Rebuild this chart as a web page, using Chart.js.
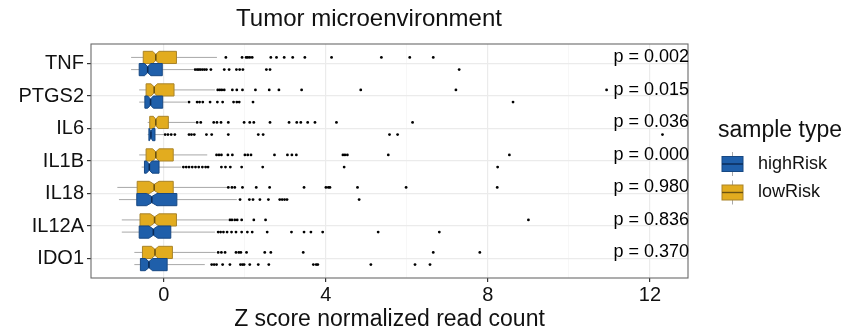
<!DOCTYPE html>
<html><head><meta charset="utf-8">
<script src="https://cdn.jsdelivr.net/npm/chart.js@4.4.1/dist/chart.umd.min.js"></script>
<style>html,body{margin:0;padding:0;background:#fff}canvas{display:block}</style>
</head><body>
<canvas id="c" width="856" height="333"></canvas>
<script>
// ---------- data ----------
const genes = ['TNF','PTGS2','IL6','IL1B','IL18','IL12A','IDO1'];
const groupNames = ['highRisk','lowRisk'];
const pValues = ['0.002','0.015','0.036','0.000','0.980','0.836','0.370'];
const xTickValues = [0,4,8,12];
const xMinorValues = [2,6,10];
const chartTitle = 'Tumor microenvironment';
const xAxisTitle = 'Z score normalized read count';
const legendTitle = 'sample type';

const highRiskMin    = [-0.81,-0.61,-0.40,-0.55,-1.11,-1.04,-0.73];
const highRiskQ1     = [-0.61,-0.47,-0.37,-0.48,-0.67,-0.61,-0.58];
const highRiskMedian = [-0.40,-0.33,-0.32,-0.36,-0.30,-0.26,-0.37];
const highRiskQ3     = [-0.04,-0.03,-0.22,-0.12, 0.32, 0.17, 0.08];
const highRiskMax    = [ 0.72, 0.57,-0.02, 0.43, 1.80, 1.26, 1.01];
const highRiskNotch  = [ 0.08, 0.07, 0.04, 0.07, 0.13, 0.11, 0.09];

const lowRiskMin    = [-0.81,-0.61,-0.40,-0.61,-1.15,-1.04,-0.73];
const lowRiskQ1     = [-0.51,-0.44,-0.35,-0.44,-0.66,-0.59,-0.53];
const lowRiskMedian = [-0.20,-0.24,-0.20,-0.20,-0.24,-0.23,-0.22];
const lowRiskQ3     = [ 0.31, 0.25, 0.11, 0.23, 0.23, 0.31, 0.21];
const lowRiskMax    = [ 1.31, 1.26, 0.77, 1.07, 1.56, 1.58, 1.28];
const lowRiskNotch  = [ 0.08, 0.08, 0.06, 0.08, 0.12, 0.11, 0.09];

const highRiskOutliers = [
  [0.77,0.82,0.86,0.90,0.95,1.00,1.05,1.16,1.49,1.61,1.79,1.87,1.95,2.53,2.62,7.29],
  [0.62,0.82,0.88,0.96,1.14,1.32,1.45,1.72,1.80,1.86,2.20,8.62],
  [0.03,0.10,0.18,0.27,0.62,0.68,0.75,1.05,1.18,1.59,2.33,2.45,5.57,5.77,12.31],
  [0.48,0.55,0.62,0.70,0.78,0.86,0.95,1.03,1.09,1.42,1.52,1.64,1.92,2.44,4.45,8.24],
  [1.88,2.11,2.20,2.37,2.58,2.86,2.92,2.98,3.04,4.82],
  [1.34,1.40,1.47,1.56,1.67,1.78,1.92,2.06,2.18,2.55,3.15,3.46,3.63,3.92,5.29,6.80],
  [1.18,1.24,1.30,1.45,1.63,1.89,1.94,1.98,2.12,2.33,2.59,3.69,3.76,3.80,5.11,6.20,6.57]
];
const lowRiskOutliers = [
  [1.53,1.93,2.03,2.07,2.12,2.18,2.64,2.78,2.97,3.18,3.48,4.14,5.37,6.07,6.65],
  [1.33,1.38,1.43,1.49,1.69,1.80,1.94,2.26,2.60,2.84,3.40,4.86,7.21,10.93],
  [0.82,0.91,1.23,1.31,1.41,1.59,1.98,2.12,2.22,2.62,3.09,3.28,3.38,3.55,3.73,4.26,6.14],
  [1.30,1.36,1.42,1.58,1.69,2.00,2.07,2.15,2.73,3.05,3.16,3.27,4.42,4.47,4.53,5.54,8.53],
  [1.59,1.68,1.75,1.94,2.28,2.61,3.46,4.00,4.06,4.10,4.78,5.98,8.23],
  [1.63,1.68,1.75,1.81,1.92,2.22,2.51,9.00],
  [1.34,1.42,1.51,1.78,1.85,1.90,2.04,2.49,2.64,3.44,6.65,7.80]
];

// ---------- styling ----------
const FONT = "'Liberation Sans', Arial, Helvetica, sans-serif";
const STYLE = {
  highRisk: {fill:'#1F5FAA', stroke:'#174883', median:'#0B2A55'},
  lowRisk:  {fill:'#E2AC1F', stroke:'#A9842A', median:'#6A5212'}
};
const HALF = 0.1875; // half of dodged box thickness (category units)
const groups = [
  {name:'lowRisk', offset:-HALF, min:lowRiskMin, q1:lowRiskQ1, med:lowRiskMedian, q3:lowRiskQ3, max:lowRiskMax, notch:lowRiskNotch, out:lowRiskOutliers},
  {name:'highRisk', offset:HALF, min:highRiskMin, q1:highRiskQ1, med:highRiskMedian, q3:highRiskQ3, max:highRiskMax, notch:highRiskNotch, out:highRiskOutliers}
];

function outlierPoints(g){
  const pts = [];
  g.out.forEach((arr,i)=>arr.forEach(v=>pts.push({x:v, y:i+1+g.offset})));
  return pts;
}

const boxPlugin = {
  id:'boxes',
  beforeDatasetsDraw(chart){
    const {ctx, chartArea:a, scales:{x,y}} = chart;
    ctx.save();
    ctx.beginPath(); ctx.rect(a.left,a.top,a.right-a.left,a.bottom-a.top); ctx.clip();
    groups.forEach(g=>{
      const st = STYLE[g.name];
      genes.forEach((gene,i)=>{
        const c = i+1+g.offset;
        const yc = y.getPixelForValue(c);
        const hh = Math.abs(y.getPixelForValue(c+HALF)-yc);
        const xl = x.getPixelForValue(g.min[i]), x1 = x.getPixelForValue(g.q1[i]);
        const xm = x.getPixelForValue(g.med[i]), x3 = x.getPixelForValue(g.q3[i]);
        const xh = x.getPixelForValue(g.max[i]);
        const nl = x.getPixelForValue(g.med[i]-g.notch[i]), nr = x.getPixelForValue(g.med[i]+g.notch[i]);
        ctx.strokeStyle = '#A8A8A8'; ctx.lineWidth = 1;
        ctx.beginPath(); ctx.moveTo(xl,yc); ctx.lineTo(x1,yc); ctx.moveTo(x3,yc); ctx.lineTo(xh,yc); ctx.stroke();
        const top = yc-hh, bot = yc+hh, ind = hh*0.5;
        ctx.beginPath();
        ctx.moveTo(x1,top); ctx.lineTo(nl,top); ctx.lineTo(xm,top+ind); ctx.lineTo(nr,top); ctx.lineTo(x3,top);
        ctx.lineTo(x3,bot); ctx.lineTo(nr,bot); ctx.lineTo(xm,bot-ind); ctx.lineTo(nl,bot); ctx.lineTo(x1,bot);
        ctx.closePath();
        ctx.fillStyle = st.fill; ctx.fill();
        ctx.strokeStyle = st.stroke; ctx.lineWidth = 1; ctx.stroke();
        ctx.strokeStyle = st.median; ctx.lineWidth = 1.6;
        ctx.beginPath(); ctx.moveTo(xm,top+ind); ctx.lineTo(xm,bot-ind); ctx.stroke();
      });
    });
    ctx.restore();
  },
  afterDraw(chart){
    const {ctx, chartArea:a, scales:{y}} = chart;
    ctx.save();
    ctx.strokeStyle = '#6A6A6A'; ctx.lineWidth = 1.1;
    ctx.strokeRect(a.left, a.top, a.right-a.left, a.bottom-a.top);
    ctx.fillStyle = '#000'; ctx.font = '18px ' + FONT;
    ctx.textAlign = 'right'; ctx.textBaseline = 'middle';
    pValues.forEach((p,i)=>{
      ctx.fillText('p = ' + p, a.right+1, y.getPixelForValue(i+1-HALF));
    });
    ctx.font = '24px ' + FONT; ctx.textAlign = 'center'; ctx.fillStyle = '#111';
    ctx.fillText(chartTitle, 369, 19);
    ctx.textAlign = 'left';
    ctx.font = '23px ' + FONT;
    ctx.fillText(legendTitle, 718, 131);
    const keyY = {highRisk:164, lowRisk:192.5};
    groupNames.forEach(n=>{
      const st = STYLE[n], cy = keyY[n];
      ctx.strokeStyle = '#A8A8A8'; ctx.lineWidth = 1;
      ctx.beginPath(); ctx.moveTo(732.5, cy-12); ctx.lineTo(732.5, cy+12); ctx.stroke();
      ctx.fillStyle = st.fill; ctx.fillRect(722, cy-7.5, 21, 15);
      ctx.strokeStyle = st.stroke; ctx.strokeRect(722, cy-7.5, 21, 15);
      ctx.strokeStyle = st.median; ctx.lineWidth = 1.4;
      ctx.beginPath(); ctx.moveTo(722, cy); ctx.lineTo(743, cy); ctx.stroke();
      ctx.fillStyle = '#111'; ctx.font = '18px ' + FONT;
      ctx.fillText(n, 758, cy);
    });
    ctx.restore();
  }
};

const isMajor = v => xTickValues.includes(v);

new Chart(document.getElementById('c'), {
  type:'scatter',
  data:{
    datasets: groups.map(g=>({
      label: g.name + ' outliers',
      data: outlierPoints(g),
      pointRadius: 1.4,
      pointHoverRadius: 1.4,
      pointBackgroundColor: '#000',
      pointBorderWidth: 0
    }))
  },
  options:{
    responsive:false,
    animation:false,
    layout:{padding:{left:0, top:44, right:168, bottom:0}},
    plugins:{legend:{display:false}, tooltip:{enabled:false}, title:{display:false}},
    scales:{
      x:{
        type:'linear', min:-1.8, max:12.94,
        afterBuildTicks(s){ s.ticks = xTickValues.concat(xMinorValues).sort((a,b)=>a-b).map(v=>({value:v})); },
        afterFit(s){ s.height = 55; },
        ticks:{autoSkip:false, maxRotation:0, padding:1, color:'#111', font:{family:FONT, size:20},
               callback:v=> isMajor(v) ? String(v) : ''},
        grid:{color:c=> isMajor(c.tick.value) ? '#EBEBEB' : '#F4F4F4',
              lineWidth:c=> isMajor(c.tick.value) ? 1.2 : 0.7,
              tickColor:c=> isMajor(c.tick.value) ? '#333' : 'rgba(0,0,0,0)',
              tickLength:4, drawTicks:true},
        border:{display:false},
        title:{display:true, text:xAxisTitle, color:'#111', font:{family:FONT, size:23}, padding:{top:0,bottom:0}}
      },
      y:{
        type:'linear', reverse:true, min:0.4, max:7.6,
        afterBuildTicks(s){ s.ticks = genes.map((g,i)=>({value:i+1})); },
        afterFit(s){ s.width = 91; },
        ticks:{autoSkip:false, padding:3, color:'#111', font:{family:FONT, size:20},
               callback:v=> genes[Math.round(v)-1]},
        grid:{color:'#EBEBEB', lineWidth:1.2, tickColor:'#333', tickLength:4},
        border:{display:false}
      }
    }
  },
  plugins:[boxPlugin]
});
</script>
</body></html>
